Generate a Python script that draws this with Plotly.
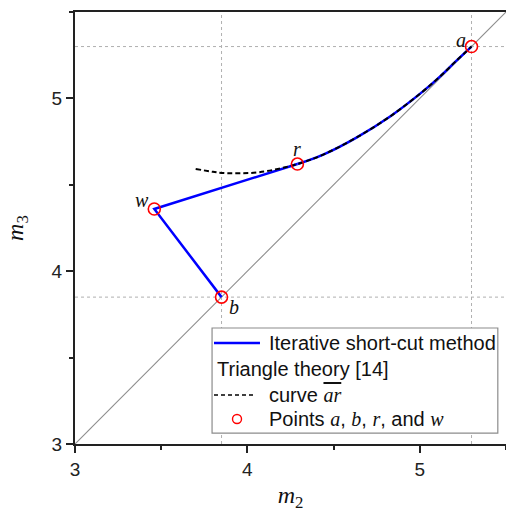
import plotly.graph_objects as go

# Key points (m2, m3)
pt_names = ["a", "b", "r", "w"]
pt_m2 = [5.30, 3.85, 4.29, 3.46]
pt_m3 = [5.30, 3.85, 4.62, 4.36]

# Curve ar (triangle theory)
curve_m2 = [3.70, 3.80, 3.85, 3.92, 4.07, 4.29, 4.44, 4.63, 4.83, 5.02, 5.12, 5.21, 5.30]
curve_m3 = [4.592, 4.575, 4.569, 4.567, 4.573, 4.62, 4.675, 4.772, 4.897, 5.042, 5.129, 5.216, 5.30]

# Iterative short-cut path: b -> w -> r, then along the curve to a
path_m2 = [3.85, 3.46, 4.29]
path_m3 = [3.85, 4.36, 4.62]
r_index = 5  # position of r on the curve

axis_min, axis_max = 3.0, 5.5

legend_labels = [
    "Iterative short-cut method",
    "Triangle theory [14]",
    'curve <span style="font-family:\'Liberation Serif\';text-decoration:overline"><i>ar</i></span>',
    "Points {a}, {b}, {r}, and {w}",
]

SERIF = "Liberation Serif"
SANS = "Liberation Sans"
BLUE = "#0000ff"
RED = "#ff0000"

fig = go.Figure()

# diagonal m3 = m2
fig.add_trace(go.Scatter(
    x=[axis_min, axis_max], y=[axis_min, axis_max], mode="lines",
    line=dict(color="#8c8c8c", width=1.1), hoverinfo="skip"))

# iterative path
fig.add_trace(go.Scatter(x=path_m2, y=path_m3, mode="lines", line=dict(color=BLUE, width=2.5)))
fig.add_trace(go.Scatter(x=curve_m2[r_index:], y=curve_m3[r_index:], mode="lines",
                         line=dict(color=BLUE, width=2.5, shape="spline")))

# curve ar
fig.add_trace(go.Scatter(x=curve_m2, y=curve_m3, mode="lines",
                         line=dict(color="#000000", width=2, dash="5px,3px", shape="spline")))

# points a, b, r, w
fig.add_trace(go.Scatter(x=pt_m2, y=pt_m3, mode="markers",
                         marker=dict(symbol="circle-open", size=12, color=RED, line=dict(width=1.6, color=RED))))

# dashed reference lines through a and b
grid_line = dict(color="#b0b0b0", width=1, dash="3px,3px")
shapes = []
for name in ["a", "b"]:
    i = pt_names.index(name)
    shapes.append(dict(type="line", xref="x", yref="y", x0=pt_m2[i], x1=pt_m2[i],
                       y0=axis_min, y1=axis_max, line=grid_line, layer="below"))
    shapes.append(dict(type="line", xref="x", yref="y", x0=axis_min, x1=axis_max,
                       y0=pt_m3[i], y1=pt_m3[i], line=grid_line, layer="below"))

# point labels
offsets = {"a": (-11, -7), "b": (12, 10), "r": (0, -15), "w": (-12, -9)}
annotations = []
for n, x, y in zip(pt_names, pt_m2, pt_m3):
    dx, dy = offsets[n]
    annotations.append(dict(x=x, y=y, xref="x", yref="y", text=f"<i>{n}</i>", showarrow=False,
                            xshift=dx, yshift=-dy, font=dict(family=SERIF, size=20, color="#111")))

# legend box (paper coordinates of the plotting area)
box_x0, box_x1, box_y0, box_y1 = 0.318, 0.981, 0.025, 0.2685
row_y = [0.2338, 0.1736, 0.1134, 0.0579]
sample_x0, sample_x1, text_x = 0.3225, 0.4292, 0.4455

shapes.append(dict(type="rect", xref="paper", yref="paper", x0=box_x0, x1=box_x1, y0=box_y0, y1=box_y1,
                   fillcolor="white", line=dict(color="#8c8c8c", width=1.2), layer="above"))
shapes.append(dict(type="line", xref="paper", yref="paper", x0=sample_x0, x1=sample_x1,
                   y0=row_y[0], y1=row_y[0], line=dict(color=BLUE, width=2.5)))
shapes.append(dict(type="line", xref="paper", yref="paper", x0=sample_x0, x1=0.4153,
                   y0=row_y[2], y1=row_y[2], line=dict(color="#000000", width=1.5, dash="4px,3px")))
shapes.append(dict(type="circle", xref="paper", yref="paper", xsizemode="pixel", ysizemode="pixel",
                   xanchor=0.3759, yanchor=row_y[3], x0=-4.5, x1=4.5, y0=-4.5, y1=4.5,
                   line=dict(color=RED, width=1.4), fillcolor="rgba(0,0,0,0)"))

it = lambda s: f'<span style="font-family:\'Liberation Serif\'"><i>{s}</i></span>'
legend_texts = [legend_labels[0], legend_labels[1], legend_labels[2],
                legend_labels[3].format(a=it("a"), b=it("b"), r=it("r"), w=it("w"))]
legend_x = [text_x, 0.3248, text_x, text_x]
for t, lx, ly in zip(legend_texts, legend_x, row_y):
    annotations.append(dict(x=lx, y=ly, xref="paper", yref="paper", text=t, showarrow=False,
                            xanchor="left", yanchor="middle",
                            font=dict(family=SANS, size=20, color="#111")))

axis_common = dict(
    range=[axis_min, axis_max], dtick=1, tick0=3, ticks="outside", ticklen=7, tickwidth=1.5,
    tickcolor="#222", showline=True, linecolor="#222", linewidth=2, mirror=True,
    showgrid=False, zeroline=False, automargin=False,
    tickfont=dict(family=SANS, size=19, color="#222"),
    minor=dict(dtick=0.5, ticks="outside", ticklen=4, tickwidth=1.5, tickcolor="#222", showgrid=False),
)

fig.update_layout(
    width=506, height=512,
    margin=dict(l=75, r=0, t=12, b=68),
    paper_bgcolor="white", plot_bgcolor="white",
    shapes=shapes, annotations=annotations, showlegend=False,
    xaxis=dict(axis_common, title=dict(text="<i>m</i><sub>2</sub>",
                                       font=dict(family=SERIF, size=24, color="#111"), standoff=25)),
    yaxis=dict(axis_common, title=dict(text="<i>m</i><sub>3</sub>",
                                       font=dict(family=SERIF, size=24, color="#111"), standoff=21)),
)

fig.write_html("out.html")
